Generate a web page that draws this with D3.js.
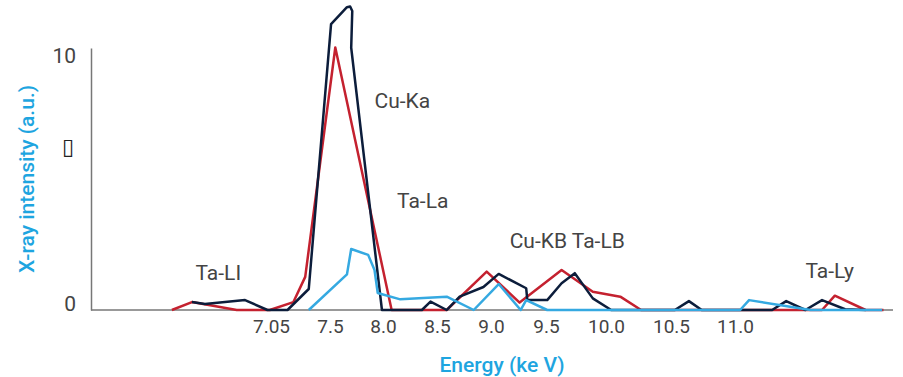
<!DOCTYPE html>
<html>
<head>
<meta charset="utf-8">
<script src="https://cdn.jsdelivr.net/npm/d3@7"></script>
<style>
  body { margin: 0; background: #fff; }
  svg { display: block; font-family: Roboto, "Noto Sans", sans-serif; }
</style>
</head>
<body>
<div id="chart"></div>
<script>
// Tick positions (keV) and the labels printed under them
const xTicks = [7.0, 7.5, 8.0, 8.5, 9.0, 9.5, 10.0, 10.5, 11.0];
const xTickLabels = ['7.05', '7.5', '8.0', '8.5', '9.0', '9.5', '10.0', '10.5', '11.0'];
const yTicks = [0, 6.35, 10];
const yTickLabels = ['0', '\u25AF', '10'];

// Spectra: energy (keV) and intensity (a.u.)
const redE = [6.16, 6.33, 6.71, 6.99, 7.19, 7.29, 7.55, 8.08, 8.59, 8.96, 9.26, 9.63, 9.89, 10.11, 10.27, 11.68, 11.78, 12.02, 12.16];
const redI = [0, 0.32, 0, 0, 0.32, 1.34, 10.62, 0, 0, 1.55, 0.30, 1.62, 0.74, 0.54, 0, 0, 0.58, 0, 0];

const navyE = [6.33, 6.44, 6.78, 6.97, 7.14, 7.32, 7.51, 7.66, 7.69, 7.71, 7.70, 7.99, 8.36, 8.44, 8.59, 8.71, 8.93, 9.07, 9.32, 9.33, 9.51, 9.63, 9.74, 9.89, 10.04, 10.53, 10.64, 10.74, 11.29, 11.40, 11.55, 11.68, 11.86, 12.02];
const navyI = [0.32, 0.24, 0.40, 0, 0, 0.85, 11.57, 12.25, 12.28, 12.1, 10.61, 0, 0, 0.34, 0, 0.54, 0.93, 1.46, 0.88, 0.40, 0.40, 1.08, 1.49, 0.47, 0, 0, 0.36, 0, 0, 0.36, 0, 0.40, 0.03, 0];

const blueE = [7.32, 7.66, 7.70, 7.86, 7.92, 7.95, 8.16, 8.59, 8.84, 9.07, 9.27, 9.32, 9.51, 11.04, 11.11, 11.59, 12.15];
const blueI = [0, 1.44, 2.47, 2.23, 1.62, 0.69, 0.43, 0.54, 0, 1.05, 0, 0.40, 0, 0, 0.40, 0, 0];

// Peak annotations: left edge energy, baseline intensity
const peakLabels = ['Ta-LI', 'Cu-Ka', 'Ta-La', 'Cu-KB Ta-LB', 'Ta-Ly'];
const peakE = [6.36, 7.92, 8.13, 9.17, 11.55];
const peakI = [1.21, 8.17, 4.13, 2.51, 1.29];

const width = 903, height = 377;
const TEXT_COLOR = '#444';
const TITLE_COLOR = '#1ea5e0';
const AXIS_COLOR = '#777';

const svg = d3.select('#chart').append('svg')
    .attr('width', width)
    .attr('height', height);

// x axis is not evenly spaced in the original, so use a polylinear scale
const xScale = d3.scaleLinear()
    .domain(xTicks)
    .range([271, 330, 383, 437, 491, 546, 606, 671, 735]);

const yScale = d3.scaleLinear()
    .domain([0, 10.6])
    .range([310, 48]);

// baseline
svg.append('line')
    .attr('x1', 91).attr('x2', 893)
    .attr('y1', yScale(0)).attr('y2', yScale(0))
    .style('stroke', AXIS_COLOR)
    .style('stroke-width', 1.5);

// y axis
const yAxis = svg.append('g')
    .attr('transform', 'translate(91,0)')
    .call(d3.axisLeft(yScale)
        .tickValues(yTicks)
        .tickFormat((d, i) => yTickLabels[i])
        .tickSize(0)
        .tickPadding(15));
yAxis.select('.domain').style('stroke', AXIS_COLOR).style('stroke-width', 1.5);
yAxis.selectAll('text')
    .attr('dy', 0)
    .style('font-size', '21px')
    .style('font-family', 'Roboto, sans-serif')
    .style('fill', TEXT_COLOR);
yAxis.selectAll('text').filter((d, i) => yTickLabels[i] === '\u25AF')
    .attr('x', -17)
    .style('font-family', '"DejaVu Sans", sans-serif')
    .style('font-size', '22px')
    .style('font-weight', 'bold')
    .style('fill', '#222');

// x axis (labels only)
const xAxis = svg.append('g')
    .attr('transform', `translate(0,${yScale(0)})`)
    .call(d3.axisBottom(xScale)
        .tickValues(xTicks)
        .tickFormat((d, i) => xTickLabels[i])
        .tickSize(0)
        .tickPadding(10));
xAxis.select('.domain').remove();
xAxis.selectAll('text')
    .style('font-size', '19px')
    .style('font-family', 'Roboto, sans-serif')
    .style('fill', TEXT_COLOR);

// spectra
const line = d3.line()
    .x(d => xScale(d[0]))
    .y(d => yScale(d[1]));

const series = [
    { e: redE, v: redI, color: '#c4212f' },
    { e: navyE, v: navyI, color: '#0c1d3b' },
    { e: blueE, v: blueI, color: '#35a9e1' }
];

series.forEach(s => {
    svg.append('path')
        .datum(s.e.map((e, i) => [e, s.v[i]]))
        .attr('d', line)
        .style('fill', 'none')
        .style('stroke', s.color)
        .style('stroke-width', 2.5)
        .style('stroke-linejoin', 'round');
});

// peak labels
svg.selectAll('.peak-label')
    .data(peakLabels)
    .enter().append('text')
    .attr('class', 'peak-label')
    .attr('x', (d, i) => xScale(peakE[i]))
    .attr('y', (d, i) => yScale(peakI[i]))
    .style('font-size', '21px')
    .style('fill', TEXT_COLOR)
    .text(d => d);

// axis titles
svg.append('text')
    .attr('text-anchor', 'middle')
    .attr('x', 502)
    .attr('y', 372)
    .style('font-size', '21px')
    .style('font-weight', '500')
    .style('fill', TITLE_COLOR)
    .text('Energy (ke V)');

svg.append('text')
    .attr('text-anchor', 'middle')
    .attr('transform', 'translate(34,179) rotate(-90)')
    .style('font-size', '21px')
    .style('font-weight', '500')
    .style('fill', TITLE_COLOR)
    .text('X-ray intensity (a.u.)');
</script>
</body>
</html>
